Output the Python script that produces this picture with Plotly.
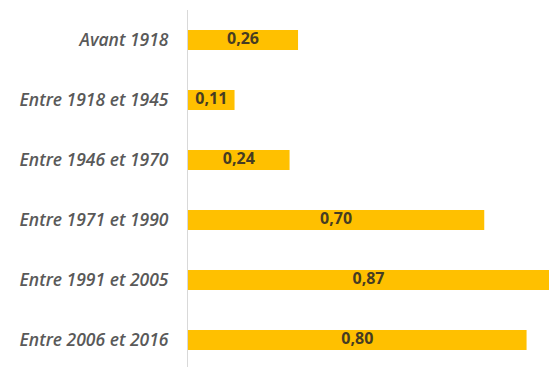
import plotly.graph_objects as go

periods = ["Avant 1918", "Entre 1918 et 1945", "Entre 1946 et 1970",
           "Entre 1971 et 1990", "Entre 1991 et 2005", "Entre 2006 et 2016"]
values = [0.26, 0.11, 0.24, 0.70, 0.87, 0.80]
value_labels = ["0,26", "0,11", "0,24", "0,70", "0,87", "0,80"]

x_max = 0.853

fig = go.Figure()
fig.add_trace(go.Bar(
    x=values, y=periods, orientation="h",
    marker=dict(color="#FFC000", line=dict(width=0)),
    hoverinfo="skip",
))
# value labels centred on the visible part of each bar
fig.add_trace(go.Scatter(
    x=[min(v, x_max) / 2 for v in values], y=periods,
    mode="text", text=value_labels,
    textfont=dict(family="Open Sans", size=16, color="#463c22", weight=700),
    hoverinfo="skip",
))

fig.update_layout(
    width=549, height=367,
    margin=dict(l=188, r=0, t=10, b=0),
    paper_bgcolor="white", plot_bgcolor="white",
    showlegend=False, bargap=0.667,
    xaxis=dict(range=[0, x_max], visible=False, fixedrange=True),
    yaxis=dict(
        range=[5.45, -0.5], type="category",
        showline=True, linecolor="#d9d9d9", linewidth=1,
        showgrid=False, ticks="", ticklabelstandoff=15,
        tickfont=dict(family="Open Sans", size=17.5, color="#595959",
                      style="italic", weight=600),
    ),
)

fig.write_html("out.html")
